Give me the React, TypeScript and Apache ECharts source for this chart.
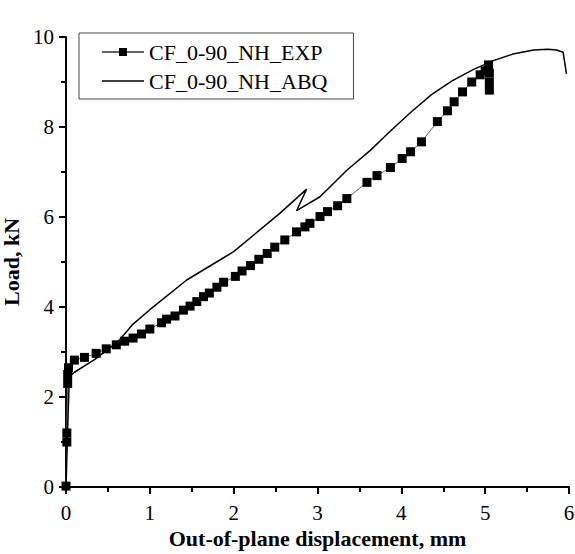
import React, { useEffect, useRef } from "react";
import * as echarts from "echarts";

const expName = "CF_0-90_NH_EXP";
const abqName = "CF_0-90_NH_ABQ";

const expX = [0.0, 0.01, 0.01, 0.02, 0.02, 0.03, 0.1, 0.22, 0.36, 0.48, 0.6, 0.7, 0.8, 0.9, 1.0, 1.14, 1.2, 1.3, 1.4, 1.48, 1.56, 1.64, 1.71, 1.8, 1.88, 2.02, 2.1, 2.2, 2.3, 2.4, 2.49, 2.61, 2.75, 2.85, 2.91, 3.03, 3.12, 3.24, 3.35, 3.59, 3.71, 3.87, 4.01, 4.11, 4.24, 4.43, 4.55, 4.63, 4.73, 4.84, 4.94, 5.0, 5.04, 5.05, 5.05, 5.05];
const expY = [0.02, 1.0, 1.2, 2.3, 2.5, 2.65, 2.82, 2.88, 2.97, 3.07, 3.16, 3.24, 3.31, 3.4, 3.51, 3.65, 3.73, 3.8, 3.93, 4.02, 4.12, 4.23, 4.31, 4.44, 4.55, 4.68, 4.8, 4.92, 5.06, 5.19, 5.33, 5.49, 5.67, 5.78, 5.86, 6.01, 6.12, 6.25, 6.41, 6.77, 6.92, 7.1, 7.3, 7.45, 7.67, 8.12, 8.36, 8.56, 8.78, 9.0, 9.16, 9.25, 9.38, 9.2, 9.0, 8.82];

const abqX = [0, 0.02, 0.04, 0.1, 0.34, 0.62, 0.8, 1.0, 1.44, 1.84, 2.0, 2.24, 2.55, 2.87, 2.75, 3.03, 3.35, 3.63, 3.87, 4.12, 4.36, 4.6, 4.85, 5.09, 5.33, 5.58, 5.75, 5.85, 5.93, 5.97];
const abqY = [0, 1.3, 2.45, 2.55, 2.83, 3.23, 3.62, 3.94, 4.6, 5.05, 5.23, 5.6, 6.08, 6.62, 6.14, 6.45, 7.04, 7.48, 7.91, 8.34, 8.72, 9.02, 9.27, 9.47, 9.62, 9.71, 9.73, 9.71, 9.66, 9.18];

const xTicks = { min: 0, max: 6, interval: 1 };
const yTicks = { min: 0, max: 10, interval: 2 };

const FONT = "Liberation Serif";

export default function App() {
  const ref = useRef<HTMLDivElement>(null);
  useEffect(() => {
    if (!ref.current) return;
    const chart = echarts.init(ref.current, null, { renderer: "svg" });
    const axisCommon = {
      type: "value" as const,
      splitLine: { show: false },
      axisLine: { show: true, onZero: false, lineStyle: { color: "#000", width: 2 } },
      axisTick: { show: true, inside: false, length: 7, lineStyle: { color: "#000", width: 2 } },
      minorTick: { show: true, splitNumber: 2, length: 5, lineStyle: { color: "#000", width: 2 } },
      axisLabel: { color: "#000", fontSize: 21, fontFamily: FONT },
      nameLocation: "middle" as const,
      nameTextStyle: { color: "#000", fontSize: 22, fontWeight: "bold" as const, fontFamily: FONT },
    };
    chart.setOption({
      animation: false,
      backgroundColor: "#fff",
      textStyle: { fontFamily: FONT },
      grid: { left: 66, right: 6, top: 37, bottom: 67, containLabel: false, outerBoundsMode: "none" },
      xAxis: {
        ...axisCommon,
        ...xTicks,
        name: "Out-of-plane displacement, mm",
        nameGap: 40,
        axisLabel: { ...axisCommon.axisLabel, margin: 15 },
      },
      yAxis: {
        ...axisCommon,
        ...yTicks,
        name: "Load, kN",
        nameGap: 35,
        axisLabel: { ...axisCommon.axisLabel, margin: 12 },
      },
      legend: {
        data: [
          { name: expName },
          { name: abqName, icon: "path://M0,0H42V1.5H0Z" },
        ],
        orient: "vertical",
        left: 79,
        top: 33,
        itemWidth: 42,
        itemHeight: 10,
        itemGap: 7,
        padding: [8, 26, 7, 22],
        borderColor: "#444",
        borderWidth: 1,
        textStyle: { color: "#000", fontSize: 22, lineHeight: 22, fontFamily: FONT },
      },
      series: [
        {
          name: expName,
          type: "line",
          data: expX.map((x, i) => [x, expY[i]]),
          symbol: "rect",
          symbolSize: 9,
          showSymbol: true,
          itemStyle: { color: "#000" },
          lineStyle: { color: "#666", width: 1 },
          z: 2,
        },
        {
          name: abqName,
          type: "line",
          data: abqX.map((x, i) => [x, abqY[i]]),
          symbol: "none",
          itemStyle: { color: "#000" },
          lineStyle: { color: "#000", width: 1.5 },
          z: 3,
        },
      ],
    });
    return () => chart.dispose();
  }, []);
  return (
    <div
      ref={ref}
      style={{ position: "fixed", left: 0, top: 0, width: 575, height: 554, background: "#fff" }}
    />
  );
}
